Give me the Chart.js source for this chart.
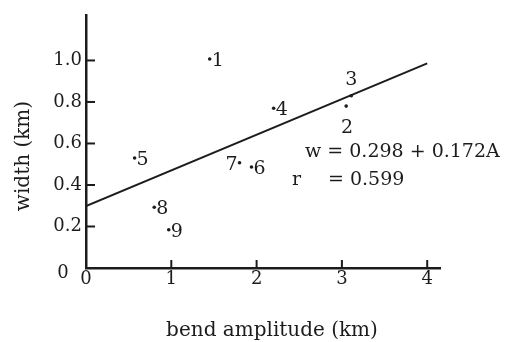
<!DOCTYPE html>
<html>
<head>
<meta charset="utf-8">
<script src="https://cdn.jsdelivr.net/npm/chart.js@4/dist/chart.umd.min.js"></script>
<style>
  body { margin: 0; background: #fff; }
  canvas { display: block; }
</style>
</head>
<body>
<canvas id="bendChart" width="514" height="342"></canvas>
<script>
// data
const pointNames = ["1", "2", "3", "4", "5", "6", "7", "8", "9"];
const amplitude = [1.45, 3.05, 3.11, 2.20, 0.57, 1.94, 1.80, 0.80, 0.97];
const widthKm = [1.007, 0.78, 0.83, 0.77, 0.53, 0.487, 0.507, 0.293, 0.184];
const xTicks = [0, 1, 2, 3, 4];
const yTicks = [0.2, 0.4, 0.6, 0.8, 1.0];
const fitIntercept = 0.298;
const fitSlope = 0.172;
const fitRange = [0, 4];
const fitR = 0.599;

// where each number sits relative to its dot
const labelSide = ["right", "below", "above", "right", "right", "right", "left", "right", "right"];

const ink = "#1c1c1c";
const serif = "'DejaVu Serif', serif";

const points = amplitude.map((a, i) => ({ x: a, y: widthKm[i] }));
const fitLine = fitRange.map(a => ({ x: a, y: fitIntercept + fitSlope * a }));

// ticks pointing into the plot, labels and the equation
const extras = {
    id: "extras",
    afterDraw(chart) {
        const c = chart.ctx;
        const xs = chart.scales.x, ys = chart.scales.y;
        const area = chart.chartArea;
        c.save();
        c.strokeStyle = ink;
        c.fillStyle = ink;
        c.lineWidth = 2;

        yTicks.forEach(v => {
            const py = ys.getPixelForValue(v);
            c.beginPath();
            c.moveTo(area.left, py);
            c.lineTo(area.left + 9, py);
            c.stroke();
        });
        xTicks.filter(v => v > 0).forEach(v => {
            const px = xs.getPixelForValue(v);
            c.beginPath();
            c.moveTo(px, area.bottom - 8);
            c.lineTo(px, area.bottom + 1);
            c.stroke();
        });

        // lone zero on the y axis
        c.font = "18px " + serif;
        c.textAlign = "center";
        c.textBaseline = "alphabetic";
        c.fillText("0", area.left - 23, area.bottom + 10);

        // point numbers
        const meta = chart.getDatasetMeta(0);
        c.font = "19px " + serif;
        meta.data.forEach((el, i) => {
            const side = labelSide[i];
            if (side === "right") {
                c.textAlign = "left";
                c.fillText(pointNames[i], el.x + 2, el.y + 7);
            } else if (side === "left") {
                c.textAlign = "right";
                c.fillText(pointNames[i], el.x - 2, el.y + 7);
            } else if (side === "above") {
                c.textAlign = "center";
                c.fillText(pointNames[i], el.x, el.y - 11);
            } else {
                c.textAlign = "center";
                c.fillText(pointNames[i], el.x + 1, el.y + 27);
            }
        });

        // regression equation
        c.textAlign = "left";
        c.fillText("w = " + fitIntercept.toFixed(3) + " + " + fitSlope.toFixed(3) + "A", 305, 157);
        c.fillText("r", 292, 185);
        c.fillText("= " + fitR.toFixed(3), 328, 185);

        // axis titles
        c.font = "20px " + serif;
        c.textAlign = "center";
        c.fillText("bend amplitude (km)", 272, 336);
        c.translate(29, 156);
        c.rotate(-Math.PI / 2);
        c.fillText("width (km)", 0, 0);
        c.restore();
    }
};

new Chart(document.getElementById("bendChart").getContext("2d"), {
    type: "scatter",
    data: {
        datasets: [
            {
                data: points,
                pointRadius: 1.8,
                pointBackgroundColor: ink,
                pointBorderWidth: 0
            },
            {
                type: "line",
                data: fitLine,
                borderColor: ink,
                borderWidth: 2,
                pointRadius: 0,
                fill: false
            }
        ]
    },
    options: {
        responsive: false,
        animation: false,
        events: [],
        layout: { padding: { left: 0, right: 74, top: 10, bottom: 0 } },
        plugins: { legend: { display: false }, tooltip: { enabled: false } },
        scales: {
            x: {
                type: "linear",
                min: 0,
                max: 4.15,
                afterFit: s => { s.height = 74; },
                afterBuildTicks: s => { s.ticks = xTicks.map(v => ({ value: v })); },
                grid: { display: false, drawTicks: false },
                border: { display: true, color: ink, width: 2.5 },
                ticks: {
                    padding: 1,
                    color: ink,
                    font: { family: serif, size: 18 },
                    callback: v => String(v)
                }
            },
            y: {
                type: "linear",
                min: 0,
                max: 1.22,
                afterFit: s => { s.width = 86; },
                afterBuildTicks: s => { s.ticks = yTicks.map(v => ({ value: v })); },
                grid: { display: false, drawTicks: false },
                border: { display: true, color: ink, width: 2.5 },
                ticks: {
                    padding: 4,
                    color: ink,
                    font: { family: serif, size: 18 },
                    callback: v => v.toFixed(1)
                }
            }
        }
    },
    plugins: [extras]
});
</script>
</body>
</html>
